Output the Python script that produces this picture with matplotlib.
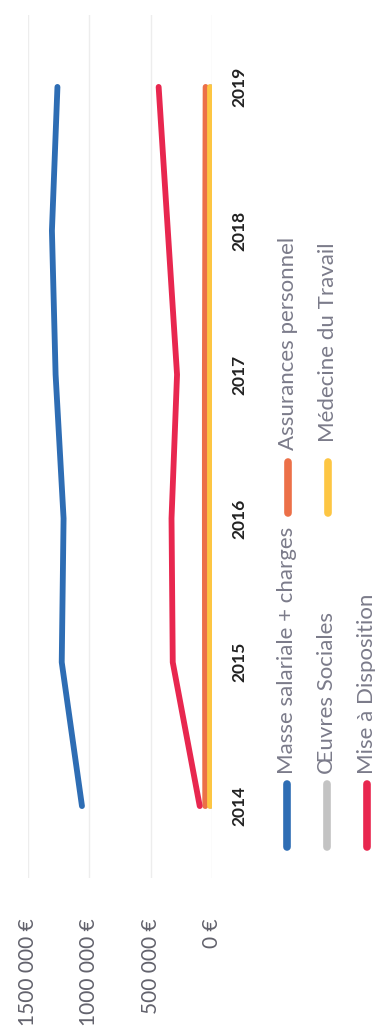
import matplotlib
matplotlib.use("Agg")
import matplotlib.pyplot as plt
from matplotlib.lines import Line2D

# Yearly cost series (euros)
years = ["2014", "2015", "2016", "2017", "2018", "2019"]
masse_salariale = [1060000, 1225000, 1210000, 1275000, 1305000, 1260000]
assurances_personnel = [55000, 57000, 58000, 58000, 55000, 52000]
oeuvres_sociales = [8000, 8000, 8000, 8000, 8000, 8000]
medecine_travail = [15000, 15000, 15000, 15000, 15000, 15000]
mise_a_disposition = [100000, 320000, 330000, 285000, 360000, 435000]

value_ticks = [0, 500000, 1000000, 1500000]
value_tick_labels = ["0 €", "500 000 €", "1000 000 €", "1500 000 €"]

series_names = ["Masse salariale + charges", "Assurances personnel",
                "Œuvres Sociales", "Médecine du Travail", "Mise à Disposition"]
series_values = [masse_salariale, assurances_personnel, oeuvres_sociales,
                 medecine_travail, mise_a_disposition]
series_colors = ["#2E6DB4", "#EC7048", "#C3C3C3", "#FDC643", "#E8274F"]

FONT = ["Lato", "DejaVu Sans"]
W, H = 375, 1034

fig = plt.figure(figsize=(W / 100, H / 100), dpi=100)
fig.patch.set_facecolor("white")

# Chart is laid out sideways: years run bottom-to-top, values grow leftwards
AX_TOP, AX_BOTTOM = 15, 878
ax = fig.add_axes([28 / W, 1 - AX_BOTTOM / H, (212 - 28) / W, (AX_BOTTOM - AX_TOP) / H])
pos = list(range(len(years)))

for name, vals, col in zip(series_names, series_values, series_colors):
    ax.plot(vals, pos, color=col, lw=4.2, solid_capstyle="round",
            solid_joinstyle="round", zorder=3)

ax.set_xlim(1500000, 0)
ax.set_ylim(-0.5, 5.5)

ax.set_xticks(value_ticks)
ax.set_xticklabels(value_tick_labels, rotation=90, va="top", ha="center",
                   family=FONT, fontsize=15, color="#62626C")
ax.tick_params(axis="x", length=0, pad=29)

ax.yaxis.tick_right()
ax.set_yticks(pos)
ax.set_yticklabels(years, rotation=90, va="center", ha="center",
                   family=FONT, fontsize=12.5, fontweight="bold", color="#222222")
ax.tick_params(axis="y", length=0, pad=20)

ax.grid(axis="x", color="#EDEDED", lw=1.0, zorder=0)
for s in ax.spines.values():
    s.set_visible(False)

# Legend drawn in figure pixels, entries read bottom-to-top
def px(x, y):
    return x / W, 1 - y / H

legend_entries = [
    (0, 287, 847, 784, 774),
    (1, 288, 513, 462, 450),
    (2, 327, 847, 784, 774),
    (3, 328, 513, 462, 442),
    (4, 367, 847, 784, 774),
]
for idx, x, y0, y1, ytext in legend_entries:
    (fx0, fy0), (fx1, fy1) = px(x, y0), px(x, y1)
    fig.add_artist(Line2D([fx0, fx1], [fy0, fy1], transform=fig.transFigure,
                          color=series_colors[idx], lw=5.5, solid_capstyle="round"))
    tx, ty = px(x, ytext)
    fig.text(tx, ty, series_names[idx], rotation=90, ha="center", va="bottom",
             family=FONT, fontsize=16, color="#7B7B8A")

fig.savefig("out.png", dpi=100, facecolor="white")
